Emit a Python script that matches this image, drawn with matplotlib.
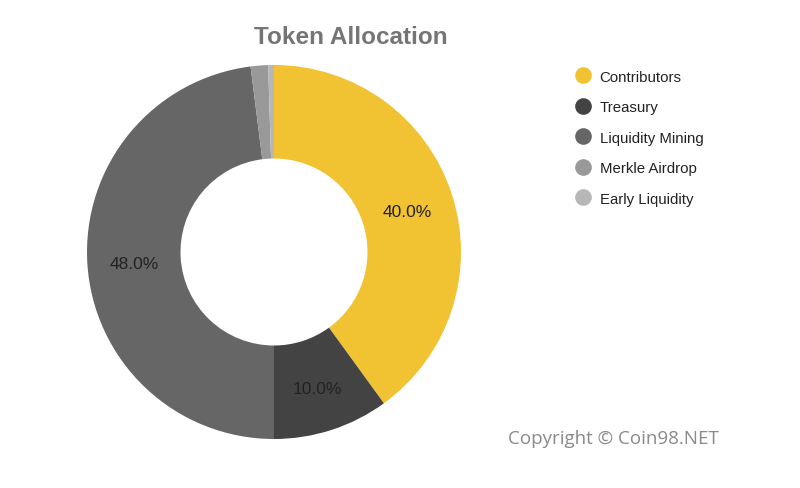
import matplotlib.pyplot as plt
from matplotlib.lines import Line2D

labels = ['Contributors', 'Treasury', 'Liquidity Mining', 'Merkle Airdrop', 'Early Liquidity']
shares = [40.0, 10.0, 48.0, 1.5, 0.5]
colors = ['#F1C232', '#434343', '#666666', '#999999', '#B7B7B7']

plt.rcParams['font.family'] = ['Liberation Sans', 'DejaVu Sans']

W, H = 800, 489
fig = plt.figure(figsize=(8, 4.89), dpi=100)

# pie axes: centre (274, 253) px, radius 187 px
cx, cy, r = 274, 253, 187
ax = fig.add_axes([(cx - r) / W, 1 - (cy + r) / H, 2 * r / W, 2 * r / H])


def pct(p):
    return '%.1f%%' % p if p >= 5 else ''


wedges, texts, autotexts = ax.pie(
    shares, colors=colors, startangle=90, counterclock=False,
    radius=1, wedgeprops=dict(width=0.5, edgecolor='none'),
    autopct=pct, pctdistance=0.75,
    textprops=dict(fontsize=12.5, color='#222222'))
for t in autotexts:
    t.set_y(t.get_position()[1] - 0.015)
ax.set_xlim(-1, 1)
ax.set_ylim(-1, 1)
ax.set_aspect('equal')

fig.text(351 / W, 1 - 38 / H, 'Token Allocation', ha='center', va='center',
         fontsize=17.5, fontweight='bold', color='#757575')

handles = [Line2D([], [], marker='o', linestyle='none', markersize=12,
                  markerfacecolor=c, markeredgecolor='none') for c in colors]
fig.legend(handles, labels, loc='upper left', bbox_to_anchor=(566 / W, 1 - 63 / H),
           frameon=False, fontsize=10.8, labelcolor='#222222',
           handletextpad=0.55, labelspacing=1.1, handlelength=1.2, borderpad=0)

fig.text(613 / W, 1 - 439 / H, 'Copyright \u00a9 Coin98.NET', ha='center', va='center',
         fontsize=13.5, color='#8a8a8a', family=['Open Sans', 'DejaVu Sans'])

fig.savefig('out.png', dpi=100, facecolor='white')
